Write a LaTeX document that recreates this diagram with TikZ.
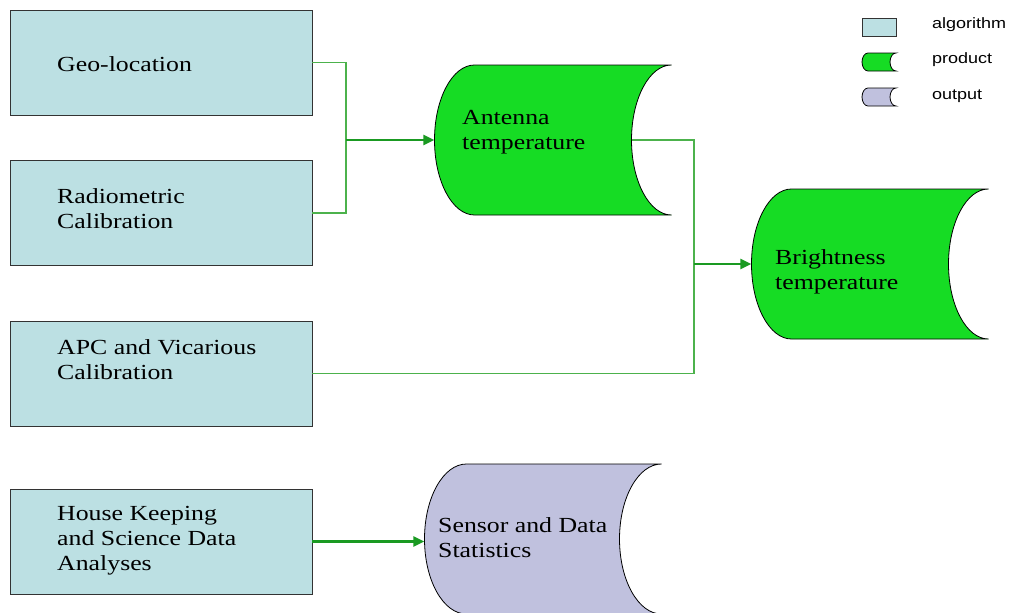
\documentclass[tikz,border=0pt]{standalone}
\usepackage{fontspec}
\setmainfont{Liberation Serif}[FakeStretch=1.2]
\newfontfamily\keyfont{Liberation Sans}[FakeStretch=1.2]
\usetikzlibrary{calc,arrows.meta}

\definecolor{algofill}{HTML}{BCE0E3}
\definecolor{prodfill}{HTML}{16DC24}
\definecolor{outfill}{HTML}{C0C1DE}
\definecolor{linkgreen}{HTML}{4CB24C}
\definecolor{arrowgreen}{HTML}{1A9A22}

% storage outline round a node: node, width, height, curve depth, fill
\newcommand\storage[5]{%
  \draw[store, fill=#5] (#1) ++(-0.5*#2pt+#4pt, 0.5*#3pt) -- ++(#2pt-#4pt, 0pt)
    arc[start angle=90, end angle=270, x radius=#4pt, y radius=0.5*#3pt]
    -- ++(-#2pt+#4pt, 0pt)
    arc[start angle=270, end angle=90, x radius=#4pt, y radius=0.5*#3pt] -- cycle;}

\begin{document}
\begin{tikzpicture}[x=1pt, y=-1pt,
  algo/.style={draw=black!80, fill=algofill, line width=0.8pt,
    minimum width=302pt, minimum height=105pt, inner sep=0pt},
  slot/.style={minimum width=237pt, minimum height=150pt, inner sep=0pt},
  txt/.style={anchor=west, align=left, inner sep=0pt,
    font=\fontsize{21.5}{25}\selectfont},
  key/.style={anchor=west, inner sep=0pt, font=\keyfont\fontsize{15}{18}\selectfont},
  store/.style={draw=black, line width=0.8pt},
  feed/.style={draw=linkgreen, line width=1.1pt},
  flow/.style={draw=arrowgreen, line width=2.4pt, -{Triangle[length=11pt,width=10pt]}}]
  \useasboundingbox (0,0) rectangle (1012,613);

  % algorithm boxes
  \node[algo] (geo) at (161,62.5) {};
  \node[algo] (radio) at (161,213) {};
  \node[algo] (apc) at (161,373.5) {};
  \node[algo] (hk) at (161,541.5) {};
  \node[txt] (geotxt) at (57,64) {Geo-location};
  \node[txt] (radiotxt) at (57,209) {Radiometric\\Calibration};
  \node[txt] (apctxt) at (57,360) {APC and Vicarious\\Calibration};
  \node[txt] (hktxt) at (57,541) {House Keeping\\and Science Data\\Analyses};

  % products and output
  \node[slot] (ant) at (553,140) {};
  \node[slot] (bright) at (870,264) {};
  \node[slot] (sens) at (543,539) {};
  \storage{ant}{237}{150}{40}{prodfill}
  \storage{bright}{237}{150}{40}{prodfill}
  \storage{sens}{237}{150}{42}{outfill}
  \node[txt] (anttxt) at (462,132) {Antenna\\temperature};
  \node[txt] (brighttxt) at (775,272) {Brightness\\temperature};
  \node[txt] (senstxt) at (438,538) {Sensor and Data\\Statistics};

  % connectors
  \coordinate (jx) at (346,0);
  \coordinate (kx) at (694,0);
  \coordinate (j1) at (ant.west -| jx);
  \coordinate (j2) at (bright.west -| kx);
  \draw[feed] (geo.east) -| (j1) |- (radio.east);
  \draw[flow] (j1) -- (ant.west);
  \draw[feed] ([xshift=-40pt]ant.east) -| (j2) |- (apc.east);
  \draw[flow] (j2) -- (bright.west);
  \draw[flow] (hk.east) -- (hk.east -| sens.west);

  % legend
  \node[algo, minimum width=34pt, minimum height=18pt] (keyalgo) at (879,27) {};
  \node[slot, minimum width=34pt, minimum height=18pt] (keyprod) at (879,62) {};
  \node[slot, minimum width=34pt, minimum height=18pt] (keyout) at (879,97) {};
  \storage{keyprod}{34}{18}{6}{prodfill}
  \storage{keyout}{34}{18}{6}{outfill}
  \node[key] (keyalgotxt) at (932,25) {algorithm};
  \node[key] (keyprodtxt) at (932,60) {product};
  \node[key] (keyouttxt) at (932,96) {output};
\end{tikzpicture}
\end{document}
